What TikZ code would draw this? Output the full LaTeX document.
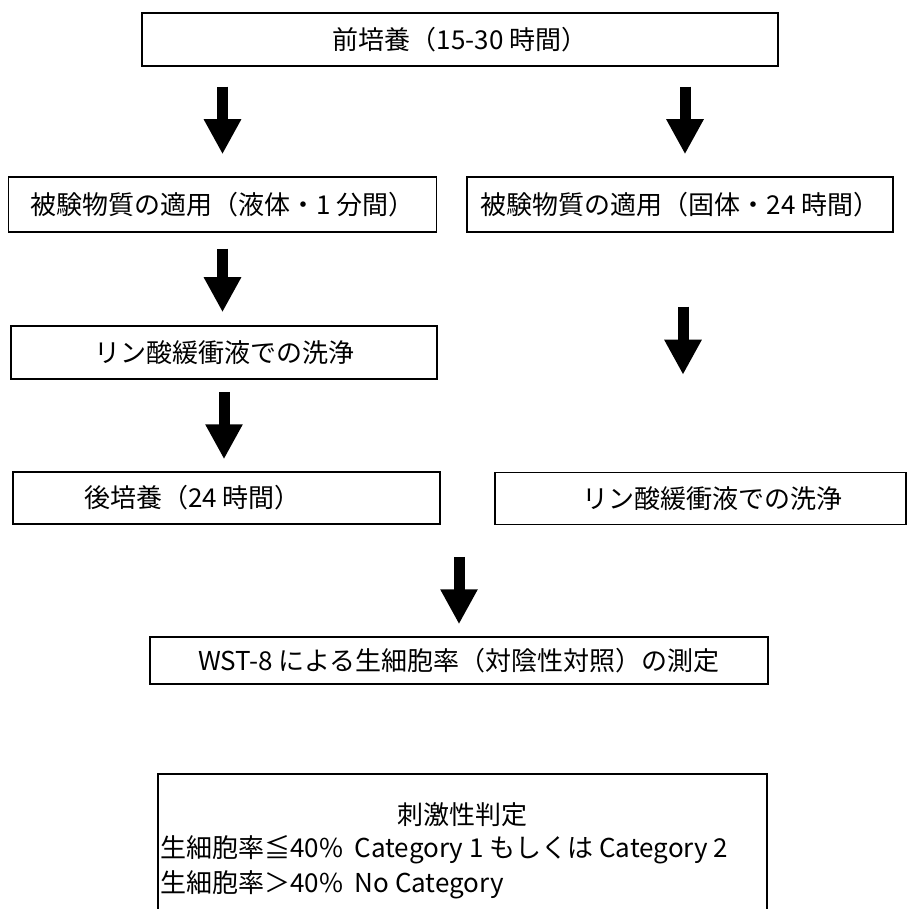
\documentclass[tikz,border=0pt]{standalone}
\usepackage{fontspec}
\setmainfont{Noto Sans CJK JP}
\usetikzlibrary{arrows.meta,positioning}

\tikzset{
  stepbox/.style={draw, line width=1.5pt, inner sep=0pt, minimum height=53pt,
    font=\fontsize{26}{31}\selectfont},
  bigarrow/.style={line width=11pt, -{Triangle[width=35pt,length=35pt]}},
  judgeline/.style={inner sep=0pt, font=\fontsize{26}{31}\selectfont},
}

\begin{document}
\begin{tikzpicture}[x=1pt,y=-1pt]
\clip (0,0) rectangle (916,909);
\fill[white] (0,0) rectangle (916,909);

% boxes
\node[stepbox, minimum width=636pt] (pre) at (460,39.5) {前培養（15-30 時間）};
\node[stepbox, minimum width=428pt, minimum height=55pt] (liq) at (222.5,204.5) {被験物質の適用（液体・1 分間）};
\node[stepbox, minimum width=426pt, minimum height=55pt] (sol) at (680,204.5) {被験物質の適用（固体・24 時間）};
\node[stepbox, minimum width=426pt] (washL) at (224,352.5) {リン酸緩衝液での洗浄};
\node[stepbox, minimum width=427pt, minimum height=52pt] (post) at (226.5,498) {\hspace*{-68pt}後培養（24 時間）};
\node[stepbox, minimum width=411pt, minimum height=52pt] (washR) at (700.5,498.5) {\hspace*{24pt}リン酸緩衝液での洗浄};
\node[stepbox, minimum width=618pt, minimum height=47pt] (wst) at (459,660.5) {WST-8 による生細胞率（対陰性対照）の測定};
\node[stepbox, minimum width=609pt, minimum height=180pt, anchor=north west] (judge) at (157,773) {};

% judgement text
\node[judgeline] (jtitle) at (462,815) {刺激性判定};
\node[judgeline, anchor=west] (jlow) at (160,850) {生細胞率≦40\%\ \ Category 1 もしくは Category 2};
\node[judgeline, anchor=west] (jhigh) at (160,885) {生細胞率＞40\%\ \ No Category};

% arrows
\draw[bigarrow, shorten <=20pt, shorten >=22pt] (pre.south -| liq.north) -- (liq.north);
\draw[bigarrow, shorten <=20pt, shorten >=22pt] ([xshift=5pt]pre.south -| sol.north) -- ([xshift=5pt]sol.north);
\draw[bigarrow, shorten <=16pt, shorten >=13pt] (liq.south) -- (liq.south |- washL.north);
\draw[bigarrow, shorten <=12pt, shorten >=12pt] (washL.south) -- (washL.south |- post.north);
\draw[bigarrow, shorten <=74pt, shorten >=97pt] ([xshift=3pt]sol.south) -- ([xshift=3pt]sol.south |- washR.north);
\draw[bigarrow, shorten <=32pt, shorten >=12pt] (wst.north |- post.south) -- (wst.north);
\end{tikzpicture}
\end{document}
